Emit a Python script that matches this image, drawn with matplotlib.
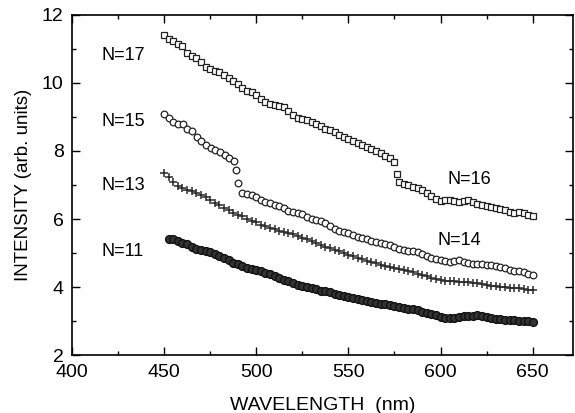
import matplotlib
matplotlib.use("Agg")
import matplotlib.pyplot as plt
from matplotlib.ticker import MultipleLocator
import numpy as np

plt.rcParams['font.family'] = ['Liberation Sans', 'DejaVu Sans']

# N=17 (450-575 nm) then jump to N=16 (577.5-650 nm), open squares
n17_vals = [11.42, 11.30, 11.22, 11.15, 11.08, 10.88, 10.78, 10.74, 10.62, 10.48,
            10.40, 10.34, 10.32, 10.24, 10.14, 10.06, 9.96, 9.84, 9.76, 9.72,
            9.66, 9.54, 9.44, 9.38, 9.35, 9.33, 9.30, 9.18, 9.05, 8.98,
            8.94, 8.90, 8.85, 8.78, 8.72, 8.66, 8.62, 8.55, 8.47, 8.40,
            8.34, 8.29, 8.24, 8.18, 8.12, 8.06, 8.00, 7.94, 7.86, 7.78, 7.68]
n17_jump_x = [576.5]
n17_jump_y = [7.32]
n16_vals = [7.08, 7.04, 7.00, 6.95, 6.90, 6.84, 6.76, 6.68, 6.60, 6.53,
            6.55, 6.57, 6.52, 6.49, 6.52, 6.55, 6.50, 6.45, 6.41, 6.37,
            6.36, 6.33, 6.30, 6.27, 6.22, 6.19, 6.21, 6.17, 6.13, 6.10]

# N=15 (450-488 nm) then jump to N=14 (492.5-650 nm), open circles
n15_vals = [9.10, 8.98, 8.86, 8.80, 8.78, 8.66, 8.60, 8.40, 8.28, 8.18,
            8.10, 8.04, 7.98, 7.88, 7.80, 7.70]
n15_jump_x = [489.3, 490.2]
n15_jump_y = [7.43, 7.06]
n14_vals = [6.78, 6.74, 6.71, 6.64, 6.57, 6.51, 6.48, 6.42, 6.38, 6.33,
            6.24, 6.20, 6.18, 6.14, 6.06, 6.01, 5.98, 5.94, 5.88, 5.80,
            5.71, 5.66, 5.62, 5.58, 5.54, 5.48, 5.43, 5.40, 5.36, 5.33,
            5.30, 5.27, 5.24, 5.19, 5.13, 5.09, 5.07, 5.05, 5.02, 4.96,
            4.91, 4.87, 4.83, 4.79, 4.76, 4.74, 4.77, 4.79, 4.75, 4.71,
            4.69, 4.68, 4.67, 4.65, 4.64, 4.62, 4.60, 4.55, 4.50, 4.48,
            4.46, 4.44, 4.40, 4.36]

# N=13 (450-650 nm), plus markers
n13_vals = [7.34, 7.24, 7.10, 6.98, 6.92, 6.86, 6.82, 6.76, 6.70, 6.65,
            6.57, 6.48, 6.40, 6.33, 6.26, 6.19, 6.12, 6.08, 6.01, 5.95,
            5.90, 5.84, 5.79, 5.74, 5.70, 5.66, 5.62, 5.58, 5.55, 5.50,
            5.45, 5.40, 5.36, 5.30, 5.24, 5.19, 5.14, 5.10, 5.05, 5.00,
            4.95, 4.91, 4.86, 4.82, 4.77, 4.74, 4.70, 4.66, 4.63, 4.60,
            4.56, 4.52, 4.49, 4.47, 4.44, 4.40, 4.36, 4.33, 4.28, 4.23,
            4.20, 4.19, 4.18, 4.17, 4.16, 4.15, 4.14, 4.12, 4.11, 4.09,
            4.06, 4.04, 4.02, 4.00, 3.99, 3.98, 3.97, 3.96, 3.94, 3.92, 3.91]

# N=11 (452.5-650 nm), dark circles
n11_vals = [5.42, 5.40, 5.36, 5.31, 5.26, 5.19, 5.13, 5.09, 5.06, 5.02,
            4.97, 4.92, 4.85, 4.79, 4.72, 4.67, 4.62, 4.57, 4.52, 4.49,
            4.46, 4.42, 4.38, 4.33, 4.28, 4.22, 4.17, 4.12, 4.07, 4.03,
            3.99, 3.96, 3.93, 3.90, 3.88, 3.85, 3.81, 3.78, 3.74, 3.71,
            3.68, 3.65, 3.62, 3.59, 3.56, 3.53, 3.51, 3.49, 3.47, 3.45,
            3.42, 3.39, 3.37, 3.35, 3.32, 3.28, 3.25, 3.21, 3.17, 3.13,
            3.10, 3.08, 3.10, 3.13, 3.14, 3.15, 3.16, 3.17, 3.16, 3.13,
            3.10, 3.07, 3.05, 3.04, 3.03, 3.02, 3.01, 3.00, 2.99, 2.98]

labels = ["N=17", "N=15", "N=13", "N=11", "N=16", "N=14"]
label_x = [416, 416, 416, 416, 604, 598.5]
label_y = [10.82, 8.86, 7.0, 5.04, 7.15, 5.38]


def grid(start, stop, vals):
    return np.linspace(start, stop, len(vals))


fig = plt.figure(figsize=(5.75, 4.13), dpi=100)
ax = fig.add_axes([0.125, 0.14, 0.872, 0.824])

sq = dict(marker='s', ms=4.4, mfc='white', mec='#222222', mew=0.9, ls='none')
ci = dict(marker='o', ms=4.8, mfc='white', mec='#222222', mew=0.9, ls='none')

ax.plot(grid(450, 575, n17_vals), n17_vals, **sq)
ax.plot(n17_jump_x, n17_jump_y, **sq)
ax.plot(grid(577.5, 650, n16_vals), n16_vals, **sq)

ax.plot(grid(450, 488, n15_vals), n15_vals, **ci)
ax.plot(n15_jump_x, n15_jump_y, **ci)
ax.plot(grid(492.5, 650, n14_vals), n14_vals, **ci)

ax.plot(grid(450, 650, n13_vals), n13_vals, marker='+', ms=5.2, mew=1.1,
        color='#2a2a2a', ls='none')

ax.plot(grid(452.5, 650, n11_vals), n11_vals, marker='o', ms=5.6,
        mfc='#333333', mec='#111111', mew=1.0, ls='none')

for t, x, y in zip(labels, label_x, label_y):
    ax.text(x, y, t, fontsize=13, va='center', ha='left')

ax.set_xlim(400, 672)
ax.set_ylim(2, 12)
ax.xaxis.set_major_locator(MultipleLocator(50))
ax.xaxis.set_minor_locator(MultipleLocator(25))
ax.yaxis.set_major_locator(MultipleLocator(2))
ax.yaxis.set_minor_locator(MultipleLocator(1))
ax.tick_params(which='both', direction='in', top=True, right=True,
               labelsize=14, width=1.0)
ax.tick_params(which='major', length=6, pad=6)
ax.tick_params(which='minor', length=3)
for s in ax.spines.values():
    s.set_linewidth(1.2)

ax.set_xlabel("WAVELENGTH  (nm)", fontsize=14, labelpad=12)
ax.set_ylabel("INTENSITY (arb. units)", fontsize=13.5, labelpad=7)

fig.savefig("out.png", dpi=100)
